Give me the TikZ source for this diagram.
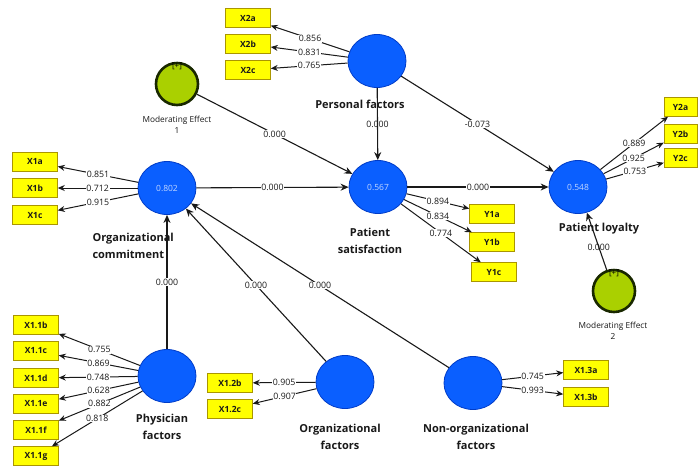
\documentclass[tikz,border=0pt]{standalone}
\usepackage{fontspec}
\setmainfont{Open Sans}
\usetikzlibrary{shapes.geometric,arrows.meta}
\definecolor{cblue}{RGB}{10,95,255}
\definecolor{cblueb}{RGB}{0,60,200}
\definecolor{cgreen}{RGB}{170,208,0}
\definecolor{cgreenb}{RGB}{25,40,0}
\definecolor{cyel}{RGB}{255,255,0}
\definecolor{cyelb}{RGB}{170,150,0}
\definecolor{ctxt}{RGB}{25,25,25}
\begin{document}
\begin{tikzpicture}[x=1pt,y=-1pt,
 lv/.style={ellipse, fill=cblue, draw=cblueb, line width=0.8pt, minimum width=58pt, minimum height=53pt, inner sep=0pt, text=white!75!cblue, font=\fontsize{8.5}{9}\selectfont},
 mod/.style={circle, fill=cgreen, draw=cgreenb, line width=2.6pt, minimum size=42pt, inner sep=0pt},
 plusl/.style={inner sep=1pt, font=\fontsize{8}{8}\selectfont, text=black},
 ind/.style={rectangle, fill=cyel, draw=cyelb, line width=0.5pt, minimum width=45pt, minimum height=19pt, inner sep=0pt, font=\bfseries\fontsize{8.5}{9}\selectfont, text=ctxt},
 indn/.style={ind, minimum width=33pt},
 pth/.style={draw=ctxt, line width=1.1pt, -{Stealth[length=8pt,width=7pt]}},
 load/.style={draw=ctxt, line width=1pt, -{Stealth[length=7pt,width=6pt]}},
 num/.style={fill=white, inner sep=0.6pt, font=\fontsize{8.8}{9}\selectfont, text=ctxt},
 numo/.style={inner sep=0.6pt, font=\fontsize{8.8}{9}\selectfont, text=ctxt},
 cname/.style={font=\bfseries\fontsize{11}{17}\selectfont, align=center, text=ctxt},
 mname/.style={font=\fontsize{8.3}{11}\selectfont, align=center, text=ctxt},
]
\useasboundingbox[fill=white] (0,0) rectangle (698,467);

% latent variables
\node[lv] (pf) at (377,61) {};
\node[lv] (oc) at (167,188) {0.802};
\node[lv] (ps) at (378,187) {0.567};
\node[lv] (pl) at (578,187) {0.548};
\node[lv] (phy) at (167,376) {};
\node[lv] (of) at (345,382) {};
\node[lv] (nof) at (473,383) {};

% moderating effects
\node[mod] (m1) at (177,84) {};
\node[plusl, anchor=north] (m1p) at (m1.north) {[+]};
\node[mod] (m2) at (614,291) {};
\node[plusl, anchor=north] (m2p) at (m2.north) {[+]};

% names
\node[cname] (pfl) at (360,104) {Personal factors};
\node[cname, align=left, anchor=west] (ocl) at (89,246) {Organizational\\commitment};
\node[cname] (psl) at (370,241) {Patient\\satisfaction};
\node[cname] (pll) at (599,229) {Patient loyalty};
\node[cname] (phyl) at (162,427) {Physician\\factors};
\node[cname] (ofl) at (340,437) {Organizational\\factors};
\node[cname] (nofl) at (476,437) {Non-organizational\\factors};
\node[mname] (m1l) at (177,125) {Moderating Effect\\1};
\node[mname] (m2l) at (613,331) {Moderating Effect\\2};

% indicators
\node[ind] (x2a) at (248,18) {X2a};
\node[ind] (x2b) at (248,44) {X2b};
\node[ind] (x2c) at (248,70) {X2c};
\node[ind] (x1a) at (35,162) {X1a};
\node[ind] (x1b) at (35,188) {X1b};
\node[ind] (x1c) at (35,215) {X1c};
\node[ind] (x11b) at (36,325) {X1.1b};
\node[ind] (x11c) at (36,351) {X1.1c};
\node[ind] (x11d) at (36,378) {X1.1d};
\node[ind] (x11e) at (36,404) {X1.1e};
\node[ind] (x11f) at (36,430) {X1.1f};
\node[ind] (x11g) at (36,456) {X1.1g};
\node[ind] (x12b) at (230,383) {X1.2b};
\node[ind] (x12c) at (230,409) {X1.2c};
\node[ind] (x13a) at (586,370) {X1.3a};
\node[ind] (x13b) at (586,397) {X1.3b};
\node[ind] (y1a) at (492,214) {Y1a};
\node[ind] (y1b) at (492,242) {Y1b};
\node[ind] (y1c) at (494,272) {Y1c};
\node[indn] (y2a) at (680.5,107) {Y2a};
\node[indn] (y2b) at (680.5,134) {Y2b};
\node[indn] (y2c) at (680.5,158) {Y2c};

% structural paths
\draw[pth] (m1) -- node[num]{0.000} (ps);
\draw[pth] (pf) -- node[numo]{0.000} (ps);
\draw[pth] (pf) -- node[num]{-0.073} (pl);
\draw[pth] (oc) -- node[num]{0.000} (ps);
\draw[pth] (ps) -- node[num]{0.000} (pl);
\draw[pth] (m2) -- node[numo, pos=0.4]{0.000} (pl);
\draw[pth] (phy) -- node[num]{0.000} (oc);
\draw[pth] (of) -- node[num]{0.000} (oc);
\draw[pth] (nof) -- node[num]{0.000} (oc);

% loadings
\draw[load] (pf) -- node[num]{0.856} (x2a);
\draw[load] (pf) -- node[num]{0.831} (x2b);
\draw[load] (pf) -- node[num]{0.765} (x2c);
\draw[load] (oc) -- node[num]{0.851} (x1a);
\draw[load] (oc) -- node[num]{0.712} (x1b);
\draw[load] (oc) -- node[num]{0.915} (x1c);
\draw[load] (phy) -- node[num]{0.755} (x11b);
\draw[load] (phy) -- node[num]{0.869} (x11c);
\draw[load] (phy) -- node[num]{0.748} (x11d);
\draw[load] (phy) -- node[num]{0.628} (x11e);
\draw[load] (phy) -- node[num]{0.882} (x11f);
\draw[load] (phy) -- node[num]{0.818} (x11g);
\draw[load] (of) -- node[num]{0.905} (x12b);
\draw[load] (of) -- node[num]{0.907} (x12c);
\draw[load] (nof) -- node[num]{0.745} (x13a);
\draw[load] (nof) -- node[num]{0.993} (x13b);
\draw[load] (ps) -- node[num]{0.894} (y1a);
\draw[load] (ps) -- node[num]{0.834} (y1b);
\draw[load] (ps) -- node[num]{0.774} (y1c);
\draw[load] (pl) -- node[num]{0.889} (y2a);
\draw[load] (pl) -- node[num]{0.925} (y2b);
\draw[load] (pl) -- node[num]{0.753} (y2c);
\end{tikzpicture}
\end{document}
